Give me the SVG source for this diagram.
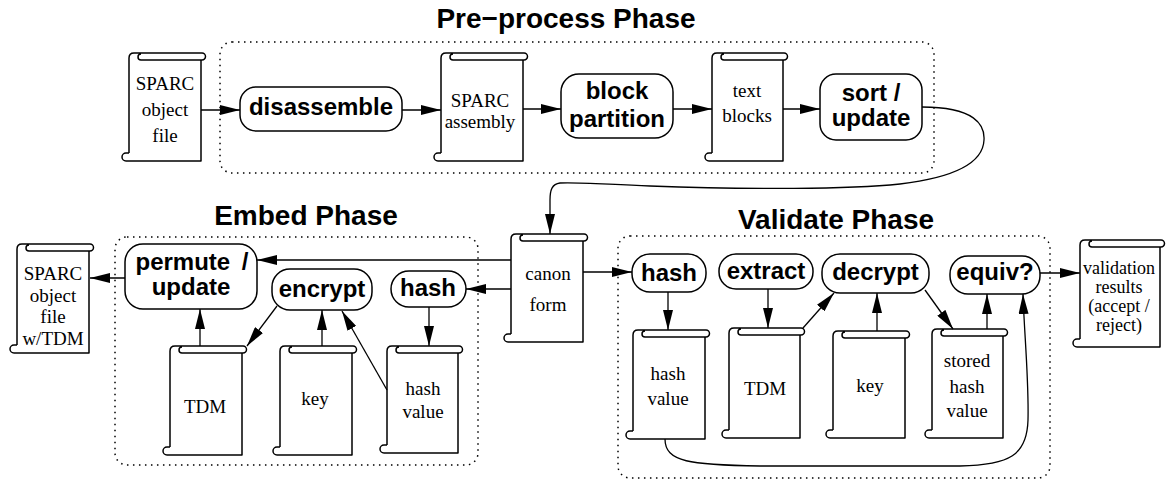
<svg xmlns="http://www.w3.org/2000/svg" width="1166" height="483" viewBox="0 0 1166 483">
<style>
.scroll{fill:none;stroke:#000;stroke-width:1.5;stroke-linejoin:round}
.box{fill:#fff;stroke:#000;stroke-width:1.5}
.phase{fill:none;stroke:#000;stroke-width:1.5;stroke-dasharray:1.5 4.5}
.st{font-family:"Liberation Serif","Times New Roman",serif;font-size:19px;text-anchor:middle;fill:#000}
.sm{font-size:18px}
.bt{font-family:"Liberation Sans",Arial,sans-serif;font-size:24px;font-weight:bold;text-anchor:middle;fill:#000}
.tt{font-family:"Liberation Sans",Arial,sans-serif;font-size:28px;font-weight:bold;text-anchor:middle;fill:#000}
.arr{fill:none;stroke:#000;stroke-width:1.3;marker-end:url(#ah)}
</style>
<defs>
<marker id="ah" markerUnits="userSpaceOnUse" markerWidth="20" markerHeight="10" refX="20" refY="5" orient="auto">
<path d="M0,0 L20,5 L0,10 z" fill="#000"/>
</marker>
</defs>
<rect width="1166" height="483" fill="#fff"/>

<g id="phases">
<rect class="phase" x="220" y="42" width="714" height="131" rx="12"/>
<rect class="phase" x="115" y="237" width="363" height="228" rx="12"/>
<rect class="phase" x="618" y="236" width="432" height="242" rx="12"/>
<text class="tt" x="566" y="28">Pre−process Phase</text>
<text class="tt" x="306" y="225">Embed Phase</text>
<text class="tt" x="836" y="229">Validate Phase</text>
</g>

<g id="connectors">
<path class="arr" d="M201,110 H240"/>
<path class="arr" d="M402,110 H441"/>
<path class="arr" d="M523,109 H561"/>
<path class="arr" d="M673,109 H712"/>
<path class="arr" d="M783,109 H820"/>
<path class="arr" d="M922,107 C975,107 985,125 984,140 C983,165 950,178 900,184 C850,189 750,190 650,186 C600,184 575,182 560,183 C552,184 550,190 550,200 V234"/>
<path class="arr" d="M511,260 H257"/>
<path class="arr" d="M511,289 H466"/>
<path class="arr" d="M125,278 H90"/>
<path class="arr" d="M429,307 V346"/>
<path class="arr" d="M387,390 L342,311"/>
<path class="arr" d="M277,306 L247,346"/>
<path class="arr" d="M322,346 V310"/>
<path class="arr" d="M200,346 V309"/>
<path class="arr" d="M583,272 H632"/>
<path class="arr" d="M668,292 V330"/>
<path class="arr" d="M768,289 V328"/>
<path class="arr" d="M803,328 L834,293"/>
<path class="arr" d="M877,331 V293"/>
<path class="arr" d="M925,290 L953,329"/>
<path class="arr" d="M987,329 V294"/>
<path class="arr" d="M1040,273 H1080"/>
<path class="arr" d="M665,439 C665,462 690,465 760,466 L960,466 C1010,465 1027,455 1028,420 C1029,380 1024,330 1023,294"/>
</g>

<g id="sparc-object-file">
<path class="scroll" d="M129,153 V58 Q129,53 134,53 H202 A3.5,3.5 0 0 1 202,60 H141 A3,3 0 0 1 141,54 M201,60 V161 H126 A4,4 0 0 1 126,153 H129"/>
<text class="st" x="165" y="90">SPARC</text>
<text class="st" x="165" y="116">object</text>
<text class="st" x="165" y="142">file</text>
</g>
<g id="disassemble">
<rect class="box" x="240" y="87" width="162" height="44" rx="16"/>
<text class="bt" x="321" y="115">disassemble</text>
</g>
<g id="sparc-assembly">
<path class="scroll" d="M441,153 V58 Q441,53 446,53 H524 A3.5,3.5 0 0 1 524,60 H453 A3,3 0 0 1 453,54 M523,60 V161 H438 A4,4 0 0 1 438,153 H441"/>
<text class="st" x="480" y="107">SPARC</text>
<text class="st" x="480" y="128">assembly</text>
</g>
<g id="block-partition">
<rect class="box" x="561" y="74" width="112" height="64" rx="18"/>
<text class="bt" x="617" y="99">block</text>
<text class="bt" x="617" y="127">partition</text>
</g>
<g id="text-blocks">
<path class="scroll" d="M712,153 V58 Q712,53 717,53 H784 A3.5,3.5 0 0 1 784,60 H724 A3,3 0 0 1 724,54 M783,60 V161 H709 A4,4 0 0 1 709,153 H712"/>
<text class="st" x="747" y="97">text</text>
<text class="st" x="747" y="122">blocks</text>
</g>
<g id="sort-update">
<rect class="box" x="820" y="74" width="102" height="66" rx="16"/>
<text class="bt" x="871" y="101">sort /</text>
<text class="bt" x="871" y="126">update</text>
</g>

<g id="sparc-object-file-tdm">
<path class="scroll" d="M17,345 V249 Q17,244 22,244 H90 A3.5,3.5 0 0 1 90,251 H29 A3,3 0 0 1 29,245 M89,251 V353 H14 A4,4 0 0 1 14,345 H17"/>
<text class="st" x="53" y="280">SPARC</text>
<text class="st" x="53" y="302">object</text>
<text class="st" x="53" y="323">file</text>
<text class="st" x="53" y="345">w/TDM</text>
</g>
<g id="permute-update">
<rect class="box" x="125" y="244" width="132" height="65" rx="18"/>
<text class="bt" x="192" y="270" word-spacing="5">permute /</text>
<text class="bt" x="191" y="295">update</text>
</g>
<g id="encrypt">
<rect class="box" x="272" y="269" width="100" height="41" rx="18"/>
<text class="bt" x="322" y="297">encrypt</text>
</g>
<g id="hash-embed">
<rect class="box" x="391" y="271" width="75" height="36" rx="18"/>
<text class="bt" x="428" y="296">hash</text>
</g>
<g id="tdm-embed">
<path class="scroll" d="M170,447 V351 Q170,346 175,346 H243 A3.5,3.5 0 0 1 243,353 H182 A3,3 0 0 1 182,347 M242,353 V455 H167 A4,4 0 0 1 167,447 H170"/>
<text class="st" x="205" y="413">TDM</text>
</g>
<g id="key-embed">
<path class="scroll" d="M280,447 V351 Q280,346 285,346 H353 A3.5,3.5 0 0 1 353,353 H292 A3,3 0 0 1 292,347 M352,353 V455 H277 A4,4 0 0 1 277,447 H280"/>
<text class="st" x="315" y="405">key</text>
</g>
<g id="hash-value-embed">
<path class="scroll" d="M387,445 V351 Q387,346 392,346 H459 A3.5,3.5 0 0 1 459,353 H399 A3,3 0 0 1 399,347 M458,353 V453 H384 A4,4 0 0 1 384,445 H387"/>
<text class="st" x="423" y="395">hash</text>
<text class="st" x="423" y="418">value</text>
</g>
<g id="canon-form">
<path class="scroll" d="M511,334 V239 Q511,234 516,234 H584 A3.5,3.5 0 0 1 584,241 H523 A3,3 0 0 1 523,235 M583,241 V342 H508 A4,4 0 0 1 508,334 H511"/>
<text class="st" x="548" y="280">canon</text>
<text class="st" x="548" y="311">form</text>
</g>

<g id="hash-validate">
<rect class="box" x="632" y="254" width="74" height="38" rx="18"/>
<text class="bt" x="669" y="281">hash</text>
</g>
<g id="extract">
<rect class="box" x="719" y="254" width="94" height="35" rx="17"/>
<text class="bt" x="766" y="279">extract</text>
</g>
<g id="decrypt">
<rect class="box" x="822" y="254" width="107" height="39" rx="18"/>
<text class="bt" x="875.5" y="280">decrypt</text>
</g>
<g id="equiv">
<rect class="box" x="950" y="256" width="90" height="38" rx="18"/>
<text class="bt" x="995" y="280">equiv?</text>
</g>
<g id="hash-value-validate">
<path class="scroll" d="M633,431 V335 Q633,330 638,330 H706 A3.5,3.5 0 0 1 706,337 H645 A3,3 0 0 1 645,331 M705,337 V439 H630 A4,4 0 0 1 630,431 H633"/>
<text class="st" x="668" y="380">hash</text>
<text class="st" x="668" y="405">value</text>
</g>
<g id="tdm-validate">
<path class="scroll" d="M729,430 V333 Q729,328 734,328 H801 A3.5,3.5 0 0 1 801,335 H741 A3,3 0 0 1 741,329 M800,335 V438 H726 A4,4 0 0 1 726,430 H729"/>
<text class="st" x="765" y="395">TDM</text>
</g>
<g id="key-validate">
<path class="scroll" d="M833,430 V336 Q833,331 838,331 H906 A3.5,3.5 0 0 1 906,338 H845 A3,3 0 0 1 845,332 M905,338 V438 H830 A4,4 0 0 1 830,430 H833"/>
<text class="st" x="870" y="392">key</text>
</g>
<g id="stored-hash-value">
<path class="scroll" d="M932,430 V334 Q932,329 937,329 H1004 A3.5,3.5 0 0 1 1004,336 H944 A3,3 0 0 1 944,330 M1003,336 V438 H929 A4,4 0 0 1 929,430 H932"/>
<text class="st" x="967" y="367">stored</text>
<text class="st" x="967" y="393">hash</text>
<text class="st" x="967" y="417">value</text>
</g>
<g id="validation-results">
<path class="scroll" d="M1080,339 V245 Q1080,240 1085,240 H1161 A3.5,3.5 0 0 1 1161,247 H1092 A3,3 0 0 1 1092,241 M1160,247 V347 H1077 A4,4 0 0 1 1077,339 H1080"/>
<text class="st sm" x="1119" y="274">validation</text>
<text class="st sm" x="1119" y="293">results</text>
<text class="st sm" x="1119" y="312">(accept /</text>
<text class="st sm" x="1119" y="331">reject)</text>
</g>
</svg>
